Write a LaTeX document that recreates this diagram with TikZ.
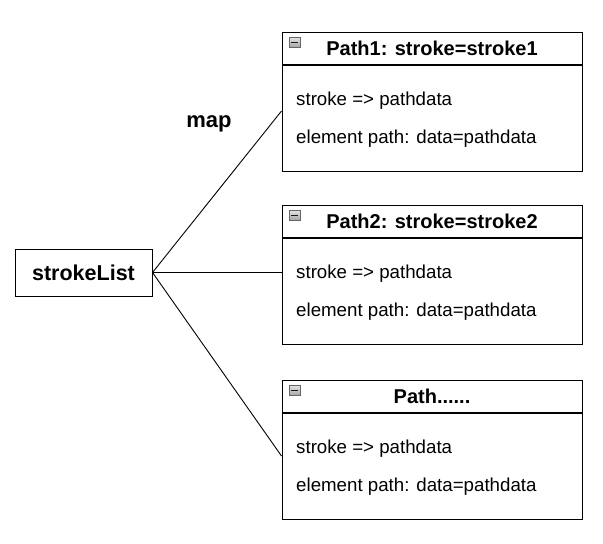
\documentclass[tikz,border=0pt]{standalone}
\usepackage{fontspec}
\setmainfont{Liberation Sans}
\usepackage{tikz}

\tikzset{
	pathhead/.style={draw, line width=1pt, minimum width=300pt, minimum height=32pt, inner sep=0pt, font=\bfseries\fontsize{20}{22}\selectfont},
	pathbody/.style={draw, line width=1pt, minimum width=300pt, minimum height=106pt, inner sep=0pt},
	bodytext/.style={anchor=west, inner sep=0pt, font=\fontsize{18.7}{21}\selectfont},
	minusicon/.style={draw=gray!80!black, line width=0.5pt, top color=gray!20, bottom color=gray!70, minimum width=11pt, minimum height=10pt, inner sep=0pt},
	listbox/.style={draw, line width=1pt, minimum width=137pt, minimum height=47pt, inner sep=0pt, font=\bfseries\fontsize{21.5}{23}\selectfont}
}

\begin{document}
\begin{tikzpicture}[x=1pt,y=-1pt]
	\useasboundingbox (0,0) rectangle (603,544);
	% stroke list
	\node[listbox] (sl) at (83.5,272.5) {strokeList};
	\node[font=\bfseries\fontsize{22}{24}\selectfont] (map) at (209,124) {map};

	% Path1
	\node[pathhead] (p1head) at (432,48) {Path1: stroke=stroke1};
	\node[pathbody, anchor=north] (p1body) at (p1head.south) {};
	\node[minusicon] (p1icon) at (294.5,42) {};
	\draw[line width=1pt, gray!20!black] ([xshift=2pt]p1icon.west) -- ([xshift=-2pt]p1icon.east);
	\node[bodytext] (p1a) at (296,101) {stroke => pathdata};
	\node[bodytext] (p1b) at (296,139) {element path: data=pathdata};

	% Path2
	\node[pathhead] (p2head) at (432,221) {Path2: stroke=stroke2};
	\node[pathbody, anchor=north] (p2body) at (p2head.south) {};
	\node[minusicon] (p2icon) at (294.5,215) {};
	\draw[line width=1pt, gray!20!black] ([xshift=2pt]p2icon.west) -- ([xshift=-2pt]p2icon.east);
	\node[bodytext] (p2a) at (296,274) {stroke => pathdata};
	\node[bodytext] (p2b) at (296,312) {element path: data=pathdata};

	% Path......
	\node[pathhead] (p3head) at (432,396) {Path......};
	\node[pathbody, anchor=north] (p3body) at (p3head.south) {};
	\node[minusicon] (p3icon) at (294.5,390) {};
	\draw[line width=1pt, gray!20!black] ([xshift=2pt]p3icon.west) -- ([xshift=-2pt]p3icon.east);
	\node[bodytext] (p3a) at (296,449) {stroke => pathdata};
	\node[bodytext] (p3b) at (296,487) {element path: data=pathdata};

	% map lines
	\draw[line width=0.9pt] (sl.east) -- ([yshift=7pt]p1body.west);
	\draw[line width=0.9pt] (sl.east) -- (sl.east -| p2body.west);
	\draw[line width=0.9pt] (sl.east) -- ([yshift=10pt]p3body.west);
\end{tikzpicture}
\end{document}
